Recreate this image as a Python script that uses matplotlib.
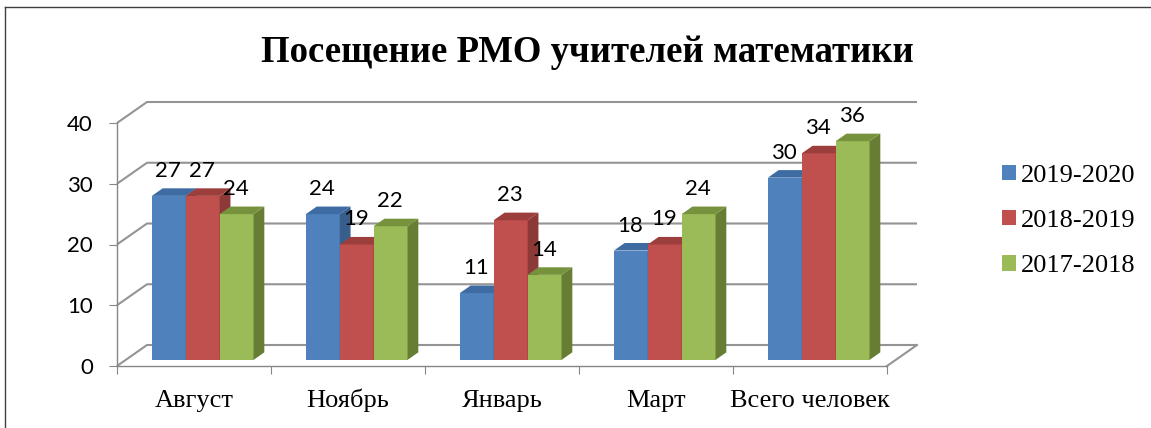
import matplotlib
matplotlib.use('Agg')
import matplotlib.pyplot as plt
from matplotlib.patches import Polygon, Patch
from matplotlib.lines import Line2D
from matplotlib.transforms import blended_transform_factory

categories = ['Август', 'Ноябрь', 'Январь', 'Март', 'Всего человек']
series_names = ['2019-2020', '2018-2019', '2017-2018']
v2019_2020 = [27, 24, 11, 18, 30]
v2018_2019 = [27, 19, 23, 19, 34]
v2017_2018 = [24, 22, 14, 24, 36]
y_ticks = [0, 10, 20, 30, 40]
title = 'Посещение РМО учителей математики'

series = [v2019_2020, v2018_2019, v2017_2018]
front_colors = ['#4F81BD', '#C0504D', '#9BBB59']
side_colors = ['#385E8C', '#8C3A37', '#677D34']
top_colors = ['#3E6BA2', '#9C3E3B', '#77923D']

W, H = 1151, 428
fig = plt.figure(figsize=(W / 100, H / 100), dpi=100)

# front plane in pixels
x0px, x1px = 117, 887
y0px, y40px = 366, 123
ax = fig.add_axes([x0px / W, (H - y0px) / H, (x1px - x0px) / W, (y0px - y40px) / H])
ncat = len(categories)
ax.set_xlim(0, ncat)
ax.set_ylim(0, 40)
ax.patch.set_visible(False)

slot_px = (x1px - x0px) / ncat
unit_px = (y0px - y40px) / 40
DX = 30 / slot_px          # depth offset (x, in category slots)
DY = 21 / unit_px          # depth offset (y, in value units)

grid_col = '#949494'
axis_col = '#868686'
# walls grid
for v in y_ticks:
    ax.plot([0, DX, ncat + DX], [v, v + DY, v + DY], color=grid_col, lw=1.5,
            clip_on=False, zorder=1, solid_capstyle='butt')
# floor right edge
ax.plot([ncat, ncat + DX], [0, DY], color=grid_col, lw=1.5, clip_on=False, zorder=1)

# bars
f = 0.29      # depth position of bar front
fd = 0.36     # bar depth
w = 0.22
base = f * DY
dx, dy = fd * DX, fd * DY
for j, vals in enumerate(series):
    xs = [i + 0.5 + (j - 1.5) * w + f * DX for i in range(ncat)]
    ax.bar(xs, vals, width=w, bottom=base, align='edge', color=front_colors[j],
           zorder=3 + j, clip_on=False, linewidth=0)
    for x, v in zip(xs, vals):
        xr = x + w
        side = Polygon([(xr, base), (xr + dx, base + dy), (xr + dx, base + v + dy), (xr, base + v)],
                       closed=True, facecolor=side_colors[j], edgecolor='none', zorder=3 + j,
                       clip_on=False)
        top = Polygon([(x, base + v), (xr, base + v), (xr + dx, base + v + dy), (x + dx, base + v + dy)],
                      closed=True, facecolor=top_colors[j], edgecolor='none', zorder=3 + j,
                      clip_on=False)
        ax.add_patch(side)
        ax.add_patch(top)
        ax.text(x + w / 2 - 0.005, base + v + 19 / unit_px, str(v), ha='center', va='baseline',
                fontsize=16, family='Lato', color='black', zorder=10, clip_on=False)

# axes styling
for s in ['top', 'right']:
    ax.spines[s].set_visible(False)
for s in ['left', 'bottom']:
    ax.spines[s].set_color(axis_col)
    ax.spines[s].set_linewidth(1.0)
    ax.spines[s].set_zorder(2)
ax.set_yticks(y_ticks)
ax.set_yticklabels([str(t) for t in y_ticks], fontsize=16, family='Lato')
ax.tick_params(axis='y', direction='out', length=5.8, color=axis_col, pad=11.5)
ax.set_xticks(range(ncat + 1))
ax.set_xticklabels([''] * (ncat + 1))
ax.tick_params(axis='x', which='major', direction='out', length=5.8, color=axis_col)

# category labels (baseline aligned)
trans = blended_transform_factory(ax.transData, fig.transFigure)
for i, c in enumerate(categories):
    ax.text(i + 0.5, 1 - 407 / H, c, transform=trans, ha='center', va='baseline',
            fontsize=19, family='Liberation Serif', clip_on=False)

# title
fig.text(587 / W, 1 - 62 / H, title, ha='center', va='baseline', fontsize=26.5,
         fontweight='bold', family='Liberation Serif')

# legend
handles = [Patch(facecolor=c, edgecolor='none') for c in front_colors]
fig.legend(handles, series_names, loc='center left', bbox_to_anchor=(1002 / W, 1 - 221 / H),
           frameon=False, prop={'family': 'Liberation Serif', 'size': 19},
           handlelength=0.53, handleheight=0.53, handletextpad=0.2, labelspacing=0.88,
           borderpad=0, borderaxespad=0)

# chart border
fig.add_artist(Line2D([5 / W, 5 / W], [0, 1 - 7 / H], transform=fig.transFigure, color='#404040', lw=1))
fig.add_artist(Line2D([5 / W, 1], [1 - 7 / H, 1 - 7 / H], transform=fig.transFigure, color='#404040', lw=1))

fig.savefig('out.png', dpi=100)
